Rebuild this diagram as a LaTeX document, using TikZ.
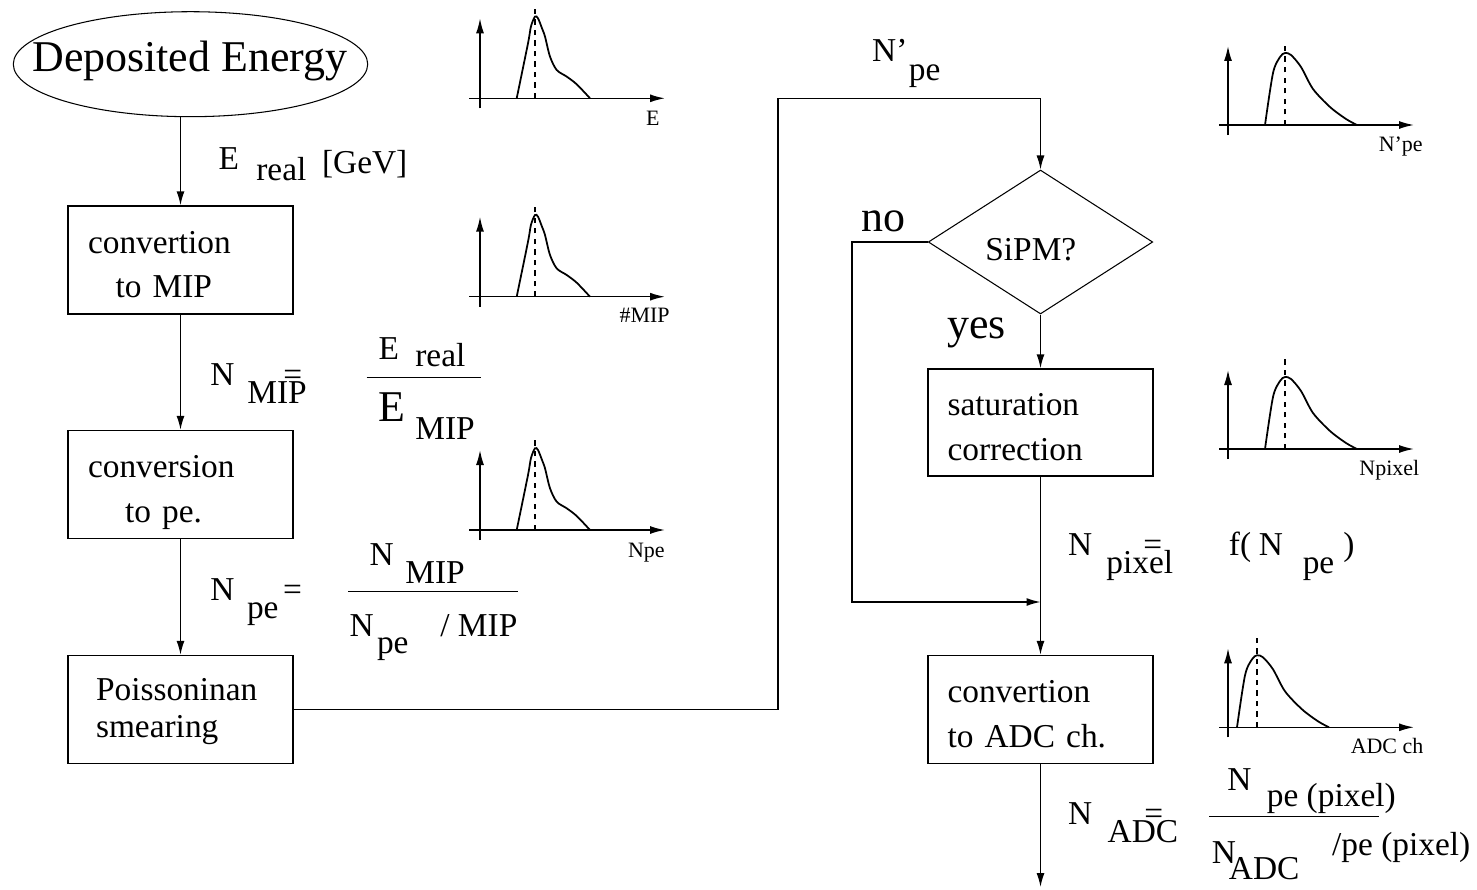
\documentclass[tikz,border=0pt]{standalone}
\usepackage{fontspec}
\setmainfont{Liberation Serif}
\usetikzlibrary{arrows.meta,shapes.geometric}

\begin{document}
\begin{tikzpicture}[x=0.02cm,y=-0.02cm,
    txt/.style={font=\fontsize{19}{25}\selectfont,inner sep=0pt,anchor=base west},
    bigtxt/.style={font=\fontsize{25}{30}\selectfont,inner sep=0pt,anchor=base west},
    axlbl/.style={font=\fontsize{12.5}{14}\selectfont,inner sep=0pt,anchor=base east},
    stepbox/.style={draw,line width=0.8pt,minimum height=2.16cm,align=left,inner ysep=0pt,font=\fontsize{19}{25.5}\selectfont},
    flow/.style={-{Latex[length=2.8mm,width=1.6mm]},line width=0.8pt},
    axis/.style={-{Latex[length=3mm,width=1.6mm]},line width=0.9pt},
    curve/.style={line width=1pt,smooth,tension=0.5}]
    \useasboundingbox (0,0) rectangle (1477,889);
    \node[draw,ellipse,line width=0.6pt,minimum width=7.09cm,minimum height=2.1cm,inner sep=0pt] (dep) at (190.5,64.2) {};
    \node[bigtxt] (deptxt) at (32,71) {Deposited Energy};
    \node[stepbox,text width=3.7cm,inner xsep=0.4cm] (mip) at (180.5,260) {\strut convertion\\\hspace*{0.55cm}to MIP};
    \node[stepbox,text width=3.7cm,inner xsep=0.4cm] (pe) at (180.5,484.5) {\strut conversion\\\hspace*{0.74cm}\smash{to pe.}};
    \node[stepbox,text width=3.38cm,inner xsep=0.56cm,font=\fontsize{19}{21}\selectfont] (pois) at (180.5,709.5) {\strut Poissoninan\\smearing};
    \node[draw,diamond,line width=0.6pt,minimum width=4.49cm,minimum height=2.88cm,inner sep=0pt] (sipm) at (1040.5,242) {};
    \node[txt] (sipmtxt) at (985,260) {SiPM?};
    \node[stepbox,text width=3.72cm,inner xsep=0.39cm,minimum height=2.14cm] (sat) at (1040.5,422.5) {\strut saturation\\correction};
    \node[stepbox,text width=3.72cm,inner xsep=0.39cm] (adc) at (1040.5,709.5) {\strut convertion\\to ADC ch.};
    \coordinate (turn) at (778,98.3);
    \coordinate (bypass) at (852,602);
    \coordinate (merge) at (1040.5,602);
    \coordinate (out) at (1040.5,887);
    \draw[flow] (mip.north |- dep.south) -- (mip.north);
    \draw[flow] (mip.south) -- (pe.north);
    \draw[flow] (pe.south) -- (pois.north);
    \draw[flow] (pois.east) -| (turn) -| (sipm.north);
    \draw[flow] (sipm.west) -| (bypass) -- (merge);
    \draw[flow] (sipm.south) -- (sat.north);
    \draw[flow] (sat.south) -- (adc.north);
    \draw[flow] (adc.south) -- (out);
    \node[bigtxt] (no) at (861,231.7) {no};
    \node[bigtxt] (yes) at (947,338) {yes};
    \node[txt] (ereal) at (218.3,169.3) {E};
    \node[txt] (erealsub) at (256,180) {real};
    \node[txt] (gev) at (321.7,173) {[GeV]};
    \node[txt] (nmip) at (210,385) {N};
    \node[txt] (nmipsub) at (247,403) {MIP};
    \node[txt] (nmipeq) at (283,385) {=};
    \node[txt] (fanum) at (378.3,359.3) {E};
    \node[txt] (fanumsub) at (415,366.7) {real};
    \draw[line width=0.8pt] (366.7,377.7) -- (481,377.7);
    \node[bigtxt] (faden) at (378.3,421.7) {E};
    \node[txt] (fadensub) at (415,439.3) {MIP};
    \node[txt] (npe) at (210,600) {N};
    \node[txt] (npesub) at (246.7,618) {pe};
    \node[txt] (npeeq) at (282.7,600) {=};
    \node[txt] (fbnum) at (369.3,565) {N};
    \node[txt] (fbnumsub) at (405,583.3) {MIP};
    \draw[line width=0.8pt] (348.3,591.7) -- (517.7,591.7);
    \node[txt] (fbden) at (349.3,636.7) {N};
    \node[txt] (fbdensub) at (376.7,653) {pe};
    \node[txt] (fbdenmip) at (440,636.7) {/ MIP};
    \node[txt] (nprime) at (871.8,61.7) {N’};
    \node[txt] (nprimesub) at (908.6,80) {pe};
    \node[txt] (npix) at (1067.8,555) {N};
    \node[txt] (npixsub) at (1106,573.3) {pixel};
    \node[txt] (npixeq) at (1143,555) {=};
    \node[txt] (fpix) at (1228.6,555) {f(};
    \node[txt] (fpixn) at (1258.4,555) {N};
    \node[txt] (fpixsub) at (1302.4,573) {pe};
    \node[txt] (fpixend) at (1342.9,555) {)};
    \node[txt] (nadc) at (1067.8,824) {N};
    \node[txt] (nadcsub) at (1107.3,842.7) {ADC};
    \node[txt] (nadceq) at (1144,824) {=};
    \node[txt] (fcnum) at (1227,790.7) {N};
    \node[txt] (fcnumsub) at (1266.5,806.7) {pe (pixel)};
    \draw[line width=0.8pt] (1209.4,816.7) -- (1378.8,816.7);
    \node[txt] (fcden) at (1211.4,863.3) {N};
    \node[txt] (fcdensub) at (1228.6,879.3) {ADC};
    \node[txt] (fcdenpe) at (1331.8,855) {/pe (pixel)};
    \foreach \oy/\lx/\ly/\lab/\name in {98.3/180/27/{E}/e, 296.7/190/26/{\#MIP}/mip, 530/185/27/{Npe}/npe}{
      \begin{scope}[shift={(480,\oy)}]
        \draw[axis] (0,10) -- (0,-80);
        \draw[axis] (-10.7,0) -- (185,0);
        \draw[curve] plot coordinates {(36.7,0) (48,-55) (51,-72) (55,-81.7) (58,-80) (62,-70) (65,-61.7) (70,-41.7) (76.7,-28.3) (86.7,-21.7) (96.7,-14) (110,0)};
        \draw[dashed,line width=0.8pt] (55,0) -- (55,-90);
        \node[axlbl] (lbl\name) at (\lx,\ly) {\lab};
      \end{scope}
    }
    \foreach \oy/\sh/\dt/\lx/\lab/\name in {125/0/-82/195/{N’pe}/nprime, 449/0/-91/191.6/{Npixel}/npix, 727.3/-28/-91/195.7/{ADC ch}/adc}{
      \begin{scope}[shift={(1228,\oy)}]
        \draw[axis] (0,10) -- (0,-79);
        \draw[axis] (-9,0) -- (186,0);
        \begin{scope}[shift={(\sh,0)}]
          \draw[curve] plot coordinates {(37,0) (45,-52) (52,-68) (57,-72) (63,-70) (73,-58) (85,-36) (102,-18) (118,-6) (129,0)};
          \draw[dashed,line width=0.8pt] (57,0) -- (57,\dt);
        \end{scope}
        \node[axlbl] (lbl\name) at (\lx,26.5) {\lab};
      \end{scope}
    }
  \end{tikzpicture}
\end{document}
